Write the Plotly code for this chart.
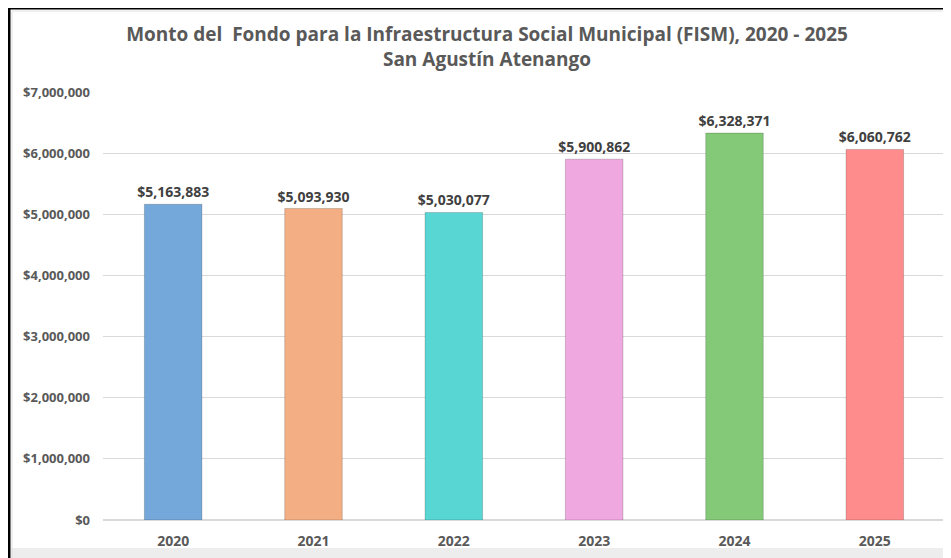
import plotly.graph_objects as go

# Datos del FISM, San Agustín Atenango
years = ["2020", "2021", "2022", "2023", "2024", "2025"]
amounts = [5163883, 5093930, 5030077, 5900862, 6328371, 6060762]
bar_colors = ["#75A8DA", "#F3AE84", "#57D6D3", "#F0A8E0", "#83C977", "#FF8C8C"]

title_line1 = "Monto del\u00a0 Fondo para la Infraestructura Social Municipal (FISM), 2020 - 2025"
title_line2 = "San Agustín Atenango"

font_family = "Open Sans, Noto Sans, sans-serif"

# el navegador deja 8px de margen en el body, por eso 943x550
W, H = 943, 550
L, R, T, B = 95, 6, 84, 38
pw, ph = W - L - R, H - T - B


def px(x):
    return (x - L) / pw


def py(y):
    return (H - B - y) / ph


fig = go.Figure(go.Bar(
    x=years,
    y=amounts,
    marker=dict(color=bar_colors, line=dict(color="rgba(0,0,0,0.18)", width=1)),
    text=[f"${v:,.0f}" for v in amounts],
    textposition="outside",
    constraintext="none",
    cliponaxis=False,
    textfont=dict(family=font_family, size=14, color="#404040", weight="bold"),
    width=0.41,
))

fig.update_layout(
    width=W, height=H,
    margin=dict(l=L, r=R, t=T, b=B),
    paper_bgcolor="white", plot_bgcolor="white",
    showlegend=False,
    title=dict(
        text=f"<b>{title_line1}<br>{title_line2}</b>",
        x=479 / W, xanchor="center",
        y=1 - 33 / H, yanchor="middle",
        font=dict(family=font_family, size=19, color="#595959"),
    ),
    font=dict(family=font_family, color="#595959"),
)

fig.update_yaxes(
    range=[0, 7000000], dtick=1000000,
    tickformat="$,.0f",
    tickfont=dict(size=13, color="#595959", weight="bold"),
    showgrid=True, gridcolor="#D9D9D9", gridwidth=1,
    zeroline=True, zerolinecolor="#D9D9D9",
    ticks="", ticklabelstandoff=12, showline=False,
)
fig.update_xaxes(
    tickfont=dict(size=14, color="#595959", weight="bold"),
    ticks="", showline=False, ticklabelstandoff=11,
)

# marco de la imagen original
fig.add_shape(type="line", xref="paper", yref="paper",
              x0=px(0), x1=px(W), y0=py(0), y1=py(0),
              line=dict(color="black", width=3))
fig.add_shape(type="line", xref="paper", yref="paper",
              x0=px(1), x1=px(1), y0=py(H), y1=py(0),
              line=dict(color="black", width=3))
fig.add_shape(type="line", xref="paper", yref="paper",
              x0=px(4), x1=px(W), y0=py(3), y1=py(3),
              line=dict(color="#E0E0E0", width=1))
fig.add_shape(type="line", xref="paper", yref="paper",
              x0=px(4), x1=px(4), y0=py(H), y1=py(3),
              line=dict(color="#E0E0E0", width=1))
fig.add_shape(type="rect", xref="paper", yref="paper",
              x0=px(3), x1=px(W), y0=py(H), y1=py(540),
              fillcolor="#EDEDED", line=dict(width=0), layer="below")

fig.write_html("out.html")
